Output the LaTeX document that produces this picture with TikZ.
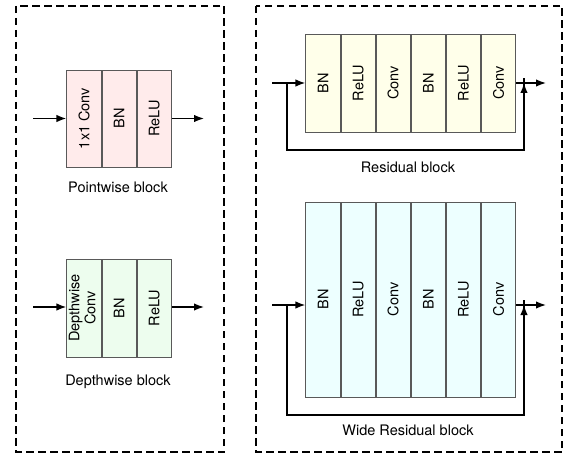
\documentclass[tikz,border=0pt]{standalone}
\usepackage{fontspec}
\setmainfont{TeX Gyre Heros}
\usepackage{graphicx}
\usetikzlibrary{arrows.meta,positioning,calc}

\definecolor{pwfill}{HTML}{FFEBEB}
\definecolor{dwfill}{HTML}{EDFDEE}
\definecolor{resfill}{HTML}{FFFFEA}
\definecolor{wresfill}{HTML}{EDFFFF}

\begin{document}
\begin{tikzpicture}[x=1pt, y=-1pt,
    cell/.style={draw=black!65, line width=0.9pt, minimum width=34.2pt, minimum height=#1, inner sep=0pt, font=\fontsize{14.5}{17}\selectfont},
    frame/.style={draw, line width=1.4pt, dash pattern=on 7.5pt off 4.5pt},
    arrow/.style={-{Latex[length=10pt, width=7.5pt]}, line width=1.5pt},
    skip/.style={line width=1.5pt},
    caption/.style={font=\fontsize{14.5}{17}\selectfont}
]
\useasboundingbox (0,0) rectangle (574,460);

% Outer dashed frames
\draw[frame] (16,6) rectangle (224,452);
\draw[frame] (256,6) rectangle (562,452);

% Pointwise block
\node[cell=97pt, fill=pwfill] (pw1) at (84,118.5) {\rotatebox{90}{1x1 Conv}};
\node[cell=97pt, fill=pwfill, right=0pt of pw1] (pw2) {\rotatebox{90}{BN}};
\node[cell=97pt, fill=pwfill, right=0pt of pw2] (pw3) {\rotatebox{90}{ReLU}};
\coordinate (pwin) at (33,118.5);
\coordinate (pwout) at (204,118.5);
\draw[arrow] (pwin) -- (pw1);
\draw[arrow] (pw3) -- (pwout);
\node[caption] (pwcap) at (118,187) {Pointwise block};

% Depthwise block
\node[cell=98pt, fill=dwfill] (dw1) at (84,308) {\rotatebox{90}{\begin{tabular}{@{}c@{}}Depthwise\\[-1pt]Conv\end{tabular}}};
\node[cell=98pt, fill=dwfill, right=0pt of dw1] (dw2) {\rotatebox{90}{BN}};
\node[cell=98pt, fill=dwfill, right=0pt of dw2] (dw3) {\rotatebox{90}{ReLU}};
\coordinate (dwin) at (33,307);
\coordinate (dwout) at (204,307);
\draw[arrow] (dwin) -- (dwin -| dw1.west);
\draw[arrow] (dwout -| dw3.east) -- (dwout);
\node[caption] (dwcap) at (118,382) {Depthwise block};

% Residual block
\node[cell=98pt, fill=resfill] (res1) at (323,83) {\rotatebox{90}{BN}};
\foreach \i/\j/\t in {2/1/ReLU, 3/2/Conv, 4/3/BN, 5/4/ReLU, 6/5/Conv}
  \node[cell=98pt, fill=resfill, right=0pt of res\j] (res\i) {\rotatebox{90}{\t}};
\coordinate (resin) at (272,83);
\coordinate (resout) at (546,83);
\coordinate (ressplit) at (287,83);
\coordinate (resjoin) at (524,83);
\draw[arrow] (resin) -- (res1);
\draw[arrow] (res6) -- (resout);
\draw[skip] (ressplit) -- ++(0,67) -| ([yshift=5pt]resjoin);
\draw[arrow] ($(resjoin)+(0,60)$) -- (resjoin);
\node[caption] (rescap) at (408,167) {Residual block};

% Wide residual block
\node[cell=195pt, fill=wresfill] (wres1) at (323,299.5) {\rotatebox{90}{BN}};
\foreach \i/\j/\t in {2/1/ReLU, 3/2/Conv, 4/3/BN, 5/4/ReLU, 6/5/Conv}
  \node[cell=195pt, fill=wresfill, right=0pt of wres\j] (wres\i) {\rotatebox{90}{\t}};
\coordinate (wresin) at (272,305);
\coordinate (wresout) at (546,305);
\coordinate (wressplit) at (287,305);
\coordinate (wresjoin) at (524,305);
\draw[arrow] (wresin) -- (wresin -| wres1.west);
\draw[arrow] (wresout -| wres6.east) -- (wresout);
\draw[skip] (wressplit) -- ++(0,110) -| ([yshift=5pt]wresjoin);
\draw[arrow] ($(wresjoin)+(0,100)$) -- (wresjoin);
\node[caption] (wrescap) at (408,430) {Wide Residual block};

\end{tikzpicture}
\end{document}
